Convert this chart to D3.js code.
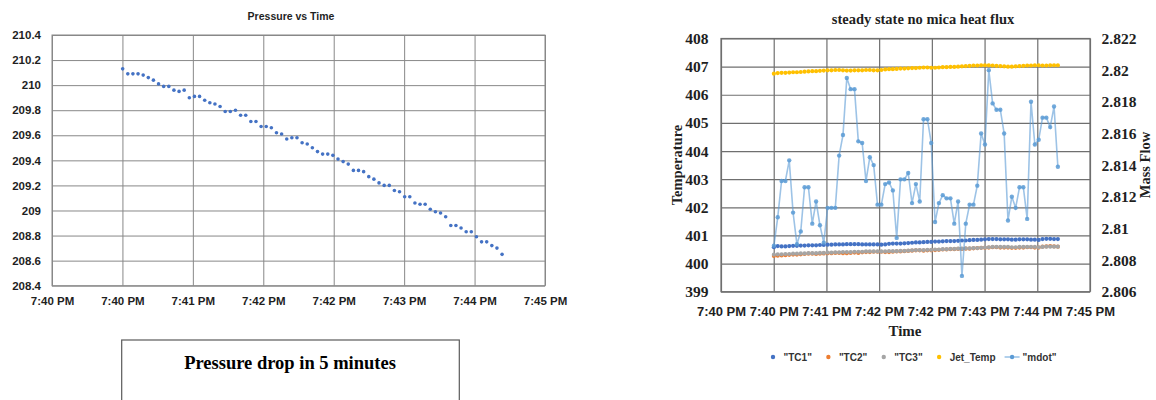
<!DOCTYPE html>
<html>
<head>
<meta charset="utf-8">
<script src="https://cdn.jsdelivr.net/npm/d3@7"></script>
<style>
  body { margin: 0; background: #fff; }
  svg { display: block; }
</style>
</head>
<body>
<svg id="chart" width="1156" height="400"></svg>
<script>
// ---- data ----
var sampleStart = "19:40:43";   // first logged sample
var sampleStep = 3.12;          // seconds between samples

var pressure = [
  210.13, 210.09, 210.09, 210.09, 210.08, 210.06, 210.04, 210.01, 209.99, 209.99,
  209.96, 209.95, 209.96, 209.90, 209.91, 209.91, 209.88, 209.86, 209.85, 209.83,
  209.79, 209.79, 209.80, 209.76, 209.76, 209.71, 209.71, 209.67, 209.67, 209.66,
  209.62, 209.61, 209.57, 209.58, 209.58, 209.54, 209.53, 209.50, 209.47, 209.45,
  209.45, 209.44, 209.41, 209.39, 209.37, 209.32, 209.32, 209.31, 209.27, 209.25,
  209.22, 209.20, 209.20, 209.16, 209.15, 209.11, 209.11, 209.06, 209.05, 209.05,
  209.01, 208.99, 208.98, 208.95, 208.88, 208.88, 208.86, 208.83, 208.83, 208.79,
  208.75, 208.75, 208.72, 208.70, 208.65
];

var tc1 = [
  400.58, 400.62, 400.61, 400.61, 400.62, 400.63, 400.63, 400.64, 400.64, 400.65,
  400.65, 400.65, 400.66, 400.66, 400.67, 400.67, 400.68, 400.68, 400.68, 400.69,
  400.69, 400.69, 400.69, 400.68, 400.68, 400.68, 400.68, 400.68, 400.67, 400.68,
  400.70, 400.71, 400.71, 400.71, 400.72, 400.73, 400.74, 400.75, 400.75, 400.76,
  400.77, 400.77, 400.78, 400.78, 400.79, 400.80, 400.80, 400.80, 400.81, 400.82,
  400.82, 400.83, 400.84, 400.84, 400.85, 400.86, 400.87, 400.87, 400.87, 400.86,
  400.86, 400.86, 400.85, 400.85, 400.86, 400.86, 400.86, 400.85, 400.85, 400.84,
  400.87, 400.88, 400.88, 400.87, 400.87
];

var tc2 = [
  400.27, 400.28, 400.29, 400.30, 400.31, 400.32, 400.32, 400.33, 400.34, 400.35,
  400.35, 400.34, 400.35, 400.36, 400.37, 400.37, 400.38, 400.38, 400.37, 400.37,
  400.38, 400.39, 400.38, 400.40, 400.41, 400.41, 400.42, 400.42, 400.42, 400.41,
  400.41, 400.42, 400.43, 400.43, 400.44, 400.45, 400.46, 400.47, 400.47, 400.46,
  400.47, 400.47, 400.48, 400.49, 400.50, 400.50, 400.51, 400.51, 400.52, 400.52,
  400.53, 400.53, 400.54, 400.55, 400.56, 400.56, 400.57, 400.58, 400.58, 400.57,
  400.57, 400.57, 400.56, 400.56, 400.57, 400.57, 400.58, 400.58, 400.57, 400.57,
  400.60, 400.61, 400.62, 400.61, 400.60
];

var tc3 = [
  400.32, 400.33, 400.33, 400.34, 400.34, 400.35, 400.35, 400.36, 400.36, 400.37,
  400.37, 400.37, 400.38, 400.38, 400.39, 400.39, 400.40, 400.40, 400.41, 400.41,
  400.41, 400.42, 400.42, 400.42, 400.43, 400.43, 400.43, 400.43, 400.43, 400.43,
  400.44, 400.44, 400.44, 400.45, 400.45, 400.46, 400.47, 400.48, 400.48, 400.48,
  400.49, 400.49, 400.50, 400.50, 400.51, 400.51, 400.52, 400.52, 400.53, 400.53,
  400.54, 400.54, 400.55, 400.55, 400.56, 400.57, 400.58, 400.59, 400.59, 400.59,
  400.59, 400.59, 400.58, 400.58, 400.59, 400.59, 400.59, 400.59, 400.59, 400.58,
  400.59, 400.60, 400.60, 400.60, 400.60
];

var jetTemp = [
  406.75, 406.77, 406.78, 406.78, 406.79, 406.80, 406.80, 406.81, 406.82, 406.83,
  406.84, 406.84, 406.85, 406.86, 406.87, 406.87, 406.88, 406.88, 406.87, 406.86,
  406.86, 406.87, 406.87, 406.87, 406.88, 406.88, 406.87, 406.87, 406.88, 406.90,
  406.91, 406.91, 406.92, 406.93, 406.93, 406.94, 406.95, 406.95, 406.96, 406.97,
  406.97, 406.96, 406.96, 406.97, 406.98, 406.98, 406.99, 406.99, 407.00, 407.01,
  407.02, 407.03, 407.04, 407.04, 407.05, 407.05, 407.05, 407.04, 407.03, 407.02,
  407.01, 407.00, 407.00, 407.01, 407.02, 407.03, 407.04, 407.04, 407.05, 407.05,
  407.04, 407.04, 407.05, 407.05, 407.05
];

var mdot = [
  2.8089, 2.8107, 2.8130, 2.8130, 2.8143, 2.8110, 2.8090, 2.8098, 2.8126, 2.8126,
  2.8103, 2.8117, 2.8102, 2.8091, 2.8113, 2.8113, 2.8113, 2.8146, 2.8159, 2.8195,
  2.8188, 2.8188, 2.8155, 2.8154, 2.8130, 2.8145, 2.8140, 2.8115, 2.8115, 2.8128,
  2.8129, 2.8124, 2.8094, 2.8131, 2.8131, 2.8135, 2.8116, 2.8128, 2.8117, 2.8169,
  2.8169, 2.8154, 2.8104, 2.8116, 2.8121, 2.8119, 2.8119, 2.8103, 2.8117, 2.8070,
  2.8103, 2.8115, 2.8115, 2.8127, 2.8160, 2.8153, 2.8200, 2.8179, 2.8175, 2.8175,
  2.8160, 2.8105, 2.8120, 2.8113, 2.8126, 2.8126, 2.8106, 2.8180, 2.8153, 2.8156,
  2.8170, 2.8170, 2.8164, 2.8177, 2.8139
];

var timeTickLabels = ["7:40 PM", "7:40 PM", "7:41 PM", "7:42 PM", "7:42 PM", "7:43 PM", "7:44 PM", "7:45 PM"];
var pressureTicks = [208.4, 208.6, 208.8, 209, 209.2, 209.4, 209.6, 209.8, 210, 210.2, 210.4];
var tempTicks = [399, 400, 401, 402, 403, 404, 405, 406, 407, 408];
var flowTicks = [2.806, 2.808, 2.81, 2.812, 2.814, 2.816, 2.818, 2.82, 2.822];
var seriesNames = ['"TC1"', '"TC2"', '"TC3"', "Jet_Temp", '"mdot"'];
var seriesColors = ["#4472C4", "#ED7D31", "#A5A5A5", "#FFC000", "#5B9BD5"];

// ---- helpers ----
var parseT = d3.timeParse("%H:%M:%S");
var t0 = parseT(sampleStart);
function sampleTime(i) { return new Date(+t0 + i * sampleStep * 1000); }
var timeDomain = [parseT("19:40:00"), parseT("19:45:00")];
var timeTicks = timeTickLabels.map(function(d, i) {
  return new Date(+timeDomain[0] + i * (timeDomain[1] - timeDomain[0]) / (timeTickLabels.length - 1));
});

var SANS = "'Liberation Sans', Arial, sans-serif";
var SERIF = "'Liberation Serif', 'Times New Roman', serif";
var svg = d3.select("#chart");

function styleAxis(g, font, size, color) {
  g.select(".domain").remove();
  g.selectAll(".tick line").attr("stroke", color);
  g.selectAll(".tick text")
    .attr("fill", "#1f1f1f")
    .style("font-family", font)
    .style("font-size", size + "px")
    .style("font-weight", "bold");
}

// ================= left chart: Pressure vs Time =================
(function() {
  var L = 52, R = 545, T = 35, B = 285.7;
  var x = d3.scaleTime().domain(timeDomain).range([L, R]);
  var y = d3.scaleLinear().domain([208.4, 210.4]).range([B, T]);
  var g = svg.append("g").attr("class", "pressure");
  var grid = "#888888";

  g.append("g").attr("transform", "translate(0," + B + ")")
    .call(d3.axisBottom(x).tickValues(timeTicks)
      .tickFormat(function(d, i) { return timeTickLabels[i]; })
      .tickSize(-(B - T)).tickPadding(11))
    .call(styleAxis, SANS, 11.5, grid);

  g.append("g").attr("transform", "translate(" + L + ",0)")
    .call(d3.axisLeft(y).tickValues(pressureTicks)
      .tickFormat(function(d) { return String(d); })
      .tickSize(-(R - L)).tickPadding(11))
    .call(styleAxis, SANS, 11.5, grid);

  g.append("rect").attr("x", L).attr("y", T).attr("width", R - L).attr("height", B - T)
    .attr("fill", "none").attr("stroke", grid);

  g.append("g").selectAll("circle").data(pressure).join("circle")
    .attr("cx", function(d, i) { return x(sampleTime(i)); })
    .attr("cy", function(d) { return y(d); })
    .attr("r", 1.8).attr("fill", "#4472C4");

  g.append("text").attr("x", 291).attr("y", 19.5).attr("text-anchor", "middle")
    .style("font-family", SANS).style("font-size", "10.5px").style("font-weight", "bold")
    .attr("fill", "#1f1f1f").text("Pressure vs Time");

  // caption box under the chart
  svg.append("rect").attr("x", 121.7).attr("y", 340).attr("width", 337.6).attr("height", 80)
    .attr("fill", "#fff").attr("stroke", "#5a5a5a").attr("stroke-width", 1.2);
  svg.append("text").attr("x", 290).attr("y", 369.3).attr("text-anchor", "middle")
    .style("font-family", SERIF).style("font-size", "18.5px").style("font-weight", "bold")
    .attr("fill", "#000").text("Pressure drop in 5 minutes");
})();

// ================= right chart: steady state no mica heat flux =================
(function() {
  var L = 721, R = 1090, T = 38.5, B = 291.7;
  var x = d3.scaleTime().domain(timeDomain).range([L, R]);
  var yT = d3.scaleLinear().domain([399, 408]).range([B, T]);
  var yF = d3.scaleLinear().domain([2.806, 2.822]).range([B, T]);
  var g = svg.append("g").attr("class", "heatflux");
  var grid = "#6f6f6f";

  g.append("g").attr("transform", "translate(0," + B + ")")
    .call(d3.axisBottom(x).tickValues(timeTicks)
      .tickFormat(function(d, i) { return timeTickLabels[i]; })
      .tickSize(-(B - T)).tickPadding(15))
    .call(styleAxis, SANS, 13, grid);

  g.append("g").attr("transform", "translate(" + L + ",0)")
    .call(d3.axisLeft(yT).tickValues(tempTicks).tickSize(-(R - L)).tickPadding(12.5))
    .call(styleAxis, SERIF, 15.5, grid);

  g.append("g").attr("transform", "translate(" + R + ",0)")
    .call(d3.axisRight(yF).tickValues(flowTicks)
      .tickFormat(function(d) { return String(d); })
      .tickSize(0).tickPadding(11.5))
    .call(styleAxis, SERIF, 15.5, grid);

  g.append("rect").attr("x", L).attr("y", T).attr("width", R - L).attr("height", B - T)
    .attr("fill", "none").attr("stroke", grid).attr("stroke-width", 1.2);
  g.selectAll(".tick line").attr("stroke-width", 1.2);

  var tempSeries = [tc1, tc2, tc3, jetTemp];
  tempSeries.forEach(function(s, k) {
    g.append("g").selectAll("circle").data(s).join("circle")
      .attr("cx", function(d, i) { return x(sampleTime(i)); })
      .attr("cy", function(d) { return yT(d); })
      .attr("r", 2.1).attr("fill", seriesColors[k]);
  });

  var line = d3.line()
    .x(function(d, i) { return x(sampleTime(i)); })
    .y(function(d) { return yF(d); });
  g.append("path").datum(mdot).attr("d", line)
    .attr("fill", "none").attr("stroke", seriesColors[4])
    .attr("stroke-opacity", 0.6).attr("stroke-width", 1.6);
  g.append("g").selectAll("circle").data(mdot).join("circle")
    .attr("cx", function(d, i) { return x(sampleTime(i)); })
    .attr("cy", function(d) { return yF(d); })
    .attr("r", 2.2).attr("fill", seriesColors[4]).attr("fill-opacity", 0.85);

  // titles
  function label(txt, xx, yy, size, rot) {
    g.append("text").attr("transform", "translate(" + xx + "," + yy + ")" + (rot ? " rotate(" + rot + ")" : ""))
      .attr("text-anchor", "middle").attr("dominant-baseline", rot ? "central" : null)
      .style("font-family", SERIF).style("font-size", size + "px").style("font-weight", "bold")
      .attr("fill", "#1f1f1f").text(txt);
  }
  label("steady state no mica heat flux", 923, 23.5, 14.5);
  label("Time", 905, 336, 15);
  label("Temperature", 677, 165, 14.5, -90);
  label("Mass Flow", 1145, 165, 14.5, -90);

  // legend
  var lg = g.append("g").attr("class", "legend");
  var cx = 0, sample = 15, legendY = 357;
  seriesNames.forEach(function(name, k) {
    var it = lg.append("g").attr("transform", "translate(" + cx + ",0)");
    if (k === 4) {
      it.append("line").attr("x1", 0).attr("x2", sample).attr("y1", legendY).attr("y2", legendY)
        .attr("stroke", seriesColors[k]).attr("stroke-opacity", 0.6).attr("stroke-width", 1.6);
    }
    it.append("circle").attr("cx", sample / 2).attr("cy", legendY).attr("r", 2.2)
      .attr("fill", seriesColors[k]);
    var t = it.append("text").attr("x", sample + 3).attr("y", legendY + 3.5)
      .style("font-family", SANS).style("font-size", "10px").style("font-weight", "bold")
      .attr("fill", "#333").text(name);
    cx += sample + 3 + t.node().getComputedTextLength() + 9;
  });
  var total = cx - 9;
  lg.attr("transform", "translate(" + (911 - total / 2) + ",0)");
})();
</script>
</body>
</html>
